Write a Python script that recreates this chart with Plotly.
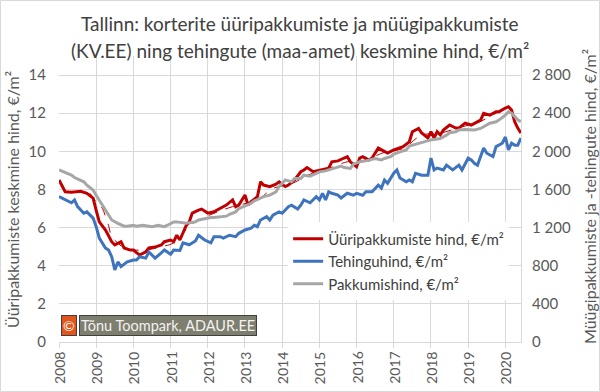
import plotly.graph_objects as go

# ---- data ----
rent_dates = ["2008-01","2008-03","2008-05","2008-08","2008-10","2008-12","2009-01","2009-02","2009-04","2009-06",
              "2009-07","2009-09","2009-10","2009-12","2010-01","2010-03","2010-05","2010-06","2010-08","2010-10",
              "2010-11","2011-01","2011-02","2011-03","2011-04","2011-06","2011-07","2011-08","2011-10","2011-11",
              "2012-01","2012-03","2012-04","2012-06","2012-07","2012-09","2012-10","2012-11","2013-01","2013-02",
              "2013-03","2013-05","2013-06","2013-07","2013-09","2013-11","2013-12","2014-02","2014-03","2014-05",
              "2014-07","2014-08","2014-09","2014-11","2015-01","2015-02","2015-04","2015-05","2015-07","2015-09",
              "2015-10","2015-11","2016-01","2016-02","2016-03","2016-05","2016-06","2016-08","2016-09","2016-11",
              "2017-01","2017-02","2017-04","2017-06","2017-07","2017-09","2017-10","2017-12","2018-01","2018-02",
              "2018-03","2018-04","2018-05","2018-07","2018-09","2018-10","2018-12","2019-02","2019-03","2019-05",
              "2019-06","2019-08","2019-10","2019-11","2020-01","2020-02","2020-03","2020-04","2020-05","2020-06"]
rent_values = [8.50,7.88,7.85,7.90,7.80,7.55,6.90,6.30,5.87,5.26,
               5.09,5.26,4.93,4.82,4.82,4.56,4.73,4.93,4.98,5.09,
               5.26,5.35,5.26,5.60,5.35,6.10,6.30,6.76,6.92,6.97,
               6.76,6.83,6.92,7.10,7.18,7.45,7.10,7.18,7.71,7.18,
               7.36,7.62,8.40,8.23,8.15,8.28,8.40,8.15,8.23,8.50,
               8.93,9.02,9.15,8.93,9.02,9.07,9.12,9.45,9.50,9.65,
               9.72,9.45,9.19,9.65,9.72,9.54,9.65,10.17,10.07,9.91,
               10.07,10.12,10.24,10.50,11.03,11.20,10.96,10.70,11.03,10.70,
               11.03,10.86,11.12,11.38,11.22,11.22,11.48,11.38,11.48,11.64,
               12.00,11.90,12.08,12.08,12.27,12.34,12.17,11.55,11.22,10.96]

trend_dates = ["2008-11","2009-01","2009-03","2009-04","2009-05","2009-06","2009-08","2009-10","2010-02","2010-06",
               "2010-10","2011-02","2011-08","2012-03","2012-09","2013-05","2013-10","2014-04","2014-10","2015-04",
               "2015-10","2016-04","2016-10","2017-04","2017-10","2018-04","2018-10","2019-04","2019-10","2020-01"]
trend_values = [7.80,7.36,7.00,6.57,6.10,5.52,5.19,4.93,4.82,4.85,
                5.00,5.20,6.20,6.75,7.10,7.45,8.05,8.30,8.80,9.10,
                9.45,9.55,9.95,10.15,10.85,10.95,11.25,11.50,12.00,12.20]

deal_dates = ["2008-01","2008-03","2008-05","2008-06","2008-07","2008-09","2008-10","2008-12","2009-01","2009-02",
              "2009-03","2009-04","2009-05","2009-06","2009-07","2009-08","2009-09","2009-11","2010-01","2010-02",
              "2010-03","2010-05","2010-06","2010-08","2010-10","2010-11","2011-01","2011-02","2011-04","2011-05",
              "2011-07","2011-08","2011-09","2011-10","2011-11","2011-12","2012-02","2012-03","2012-05","2012-06",
              "2012-08","2012-10","2012-11","2013-01","2013-03","2013-04","2013-05","2013-06","2013-08","2013-09",
              "2013-10","2013-12","2014-01","2014-03","2014-04","2014-06","2014-07","2014-08","2014-10","2014-12",
              "2015-01","2015-02","2015-03","2015-04","2015-05","2015-07","2015-08","2015-10","2015-12","2016-01",
              "2016-03","2016-04","2016-06","2016-08","2016-09","2016-10","2016-11","2017-01","2017-02","2017-03",
              "2017-05","2017-06","2017-07","2017-08","2017-10","2017-12","2018-01","2018-02","2018-03","2018-05",
              "2018-06","2018-08","2018-10","2018-11","2019-01","2019-02","2019-03","2019-04","2019-05","2019-06",
              "2019-07","2019-09","2019-10","2019-11","2019-12","2020-01","2020-02","2020-03","2020-04","2020-05",
              "2020-06"]
deal_values = [1525,1490,1460,1490,1420,1350,1365,1300,1210,1090,
               1040,985,965,895,755,840,790,840,860,860,
               895,880,945,880,935,965,920,965,960,1040,
               1020,1040,1060,1120,1090,1070,1040,1105,1105,1090,
               1120,1105,1140,1175,1195,1225,1210,1280,1315,1280,
               1330,1365,1350,1420,1435,1395,1435,1490,1460,1525,
               1490,1560,1490,1575,1560,1540,1510,1560,1540,1560,
               1540,1575,1575,1645,1615,1700,1665,1770,1805,1720,
               1680,1700,1680,1770,1750,1750,1930,1805,1825,1805,
               1855,1805,1855,1805,1930,1910,1875,1855,1945,2035,
               1980,1945,2050,2065,2085,2150,2015,2085,2065,2065,
               2140]

offer_dates = ["2008-01","2008-03","2008-05","2008-06","2008-08","2008-09","2008-10","2008-12","2009-01","2009-02",
               "2009-03","2009-04","2009-05","2009-06","2009-08","2009-10","2009-11","2010-01","2010-02","2010-04",
               "2010-06","2010-07","2010-09","2010-11","2010-12","2011-02","2011-03","2011-05","2011-06","2011-07",
               "2011-09","2011-10","2011-12","2012-02","2012-03","2012-05","2012-07","2012-08","2012-10","2012-11",
               "2013-01","2013-03","2013-04","2013-06","2013-07","2013-09","2013-11","2013-12","2014-02","2014-04",
               "2014-05","2014-07","2014-08","2014-10","2014-12","2015-01","2015-03","2015-04","2015-06","2015-08",
               "2015-09","2015-11","2015-12","2016-02","2016-04","2016-05","2016-07","2016-09","2016-10","2016-12",
               "2017-01","2017-03","2017-05","2017-06","2017-08","2017-09","2017-11","2018-01","2018-02","2018-04",
               "2018-06","2018-07","2018-09","2018-10","2018-12","2019-02","2019-03","2019-05","2019-06","2019-08",
               "2019-10","2019-11","2020-01","2020-02","2020-03","2020-04","2020-05","2020-06"]
offer_values = [1805,1775,1750,1725,1700,1680,1645,1595,1540,1490,
                1435,1385,1330,1280,1245,1215,1215,1225,1215,1225,
                1215,1210,1225,1210,1225,1260,1260,1250,1245,1250,
                1260,1280,1295,1305,1305,1315,1320,1340,1365,1400,
                1425,1455,1480,1505,1525,1540,1575,1630,1700,1680,
                1715,1715,1750,1740,1770,1785,1795,1805,1830,1845,
                1830,1820,1865,1890,1900,1910,1925,1910,1925,1945,
                1970,1995,2015,2055,2075,2085,2100,2120,2125,2135,
                2170,2195,2205,2225,2230,2230,2225,2240,2260,2295,
                2310,2330,2380,2415,2400,2360,2330,2310]

year_ticks = list(range(2008, 2021))
series_names = ["Üüripakkumiste hind, €/m²", "Tehinguhind, €/m²", "Pakkumishind, €/m²"]
title_lines = ["Tallinn: korterite üüripakkumiste ja müügipakkumiste",
               "(KV.EE) ning tehingute (maa-amet) keskmine hind, €/m²"]
left_title = "Üüripakkumiste keskmine hind, €/m²"
right_title = "Müügipakkumiste ja -tehingute hind, €/m²"
credit = "Tõnu Toompark, ADAUR.EE"


def to_year(months):
    """'YYYY-MM' -> decimal year (month start)."""
    out = []
    for s in months:
        y, m = s.split("-")
        out.append(int(y) + (int(m) - 1) / 12.0)
    return out


FONT = "Lato"
TXT = "#595959"
GRID = "#d9d9d9"
W, H = 600, 392
ML, MR, MT, MB = 59, 79, 56, 50

fig = go.Figure()
fig.add_trace(go.Scatter(x=to_year(rent_dates), y=rent_values, name=series_names[0], mode="lines",
                         line=dict(color="#c00000", width=3), yaxis="y"))
fig.add_trace(go.Scatter(x=to_year(trend_dates), y=trend_values, mode="lines", showlegend=False,
                         line=dict(color="#c00000", width=1, dash="dash", shape="spline"), yaxis="y"))
fig.add_trace(go.Scatter(x=to_year(deal_dates), y=deal_values, name=series_names[1], mode="lines",
                         line=dict(color="#3e74bd", width=3), yaxis="y2"))
fig.add_trace(go.Scatter(x=to_year(offer_dates), y=offer_values, name=series_names[2], mode="lines",
                         line=dict(color="#a6a6a6", width=3), yaxis="y2"))

fig.update_layout(
    template="none",
    width=W, height=H,
    margin=dict(l=ML, r=MR, t=MT, b=MB, autoexpand=False),
    paper_bgcolor="white", plot_bgcolor="white",
    font=dict(family=FONT, size=15, color=TXT),
    separators=", ",
    xaxis=dict(type="linear", range=[2008, 2020.42], tickmode="array", tickvals=year_ticks,
               showticklabels=False, automargin=False,
               showgrid=True, gridcolor=GRID, gridwidth=1,
               showline=True, linecolor=GRID, linewidth=1, ticks="outside", ticklen=5, tickcolor=GRID,
               zeroline=False),
    yaxis=dict(range=[0, 15], tickmode="linear", tick0=0, dtick=2, showgrid=True, gridcolor=GRID,
               gridwidth=1, zeroline=False, automargin=False, ticks="",
               showline=False, tickfont=dict(size=15, color=TXT), ticklabelstandoff=12),
    yaxis2=dict(range=[0, 3000], tickmode="linear", tick0=0, dtick=400, overlaying="y", side="right",
                showgrid=False, automargin=False, ticks="",
                zeroline=False, showline=True, linecolor=GRID, linewidth=1, tickformat=",d",
                tickfont=dict(size=15, color=TXT), ticklabelstandoff=7),
    legend=dict(x=0.496, y=0.418, xanchor="left", yanchor="top", bgcolor="white", borderwidth=0,
                font=dict(size=15, color="#404040"), tracegroupgap=0),
    showlegend=True,
)

# thin chart-area frame
pw, ph = W - ML - MR, H - MT - MB
fig.add_shape(type="rect", xref="paper", yref="paper", layer="below",
              x0=(-ML + 0.5) / pw, x1=(W - ML - 0.5) / pw, y0=(-MB + 0.5) / ph, y1=(H - MB - 0.5) / ph,
              line=dict(color=GRID, width=1), fillcolor="rgba(0,0,0,0)")

# year tick labels, vertical like the original
for yr in year_ticks:
    fig.add_annotation(xref="x", yref="paper", x=yr, y=-0.028, xanchor="center", yanchor="top",
                       text=str(yr), textangle=-90, showarrow=False,
                       font=dict(family=FONT, size=14, color=TXT))

# title lines
fig.add_annotation(xref="paper", yref="paper", x=0.521, y=1.115, xanchor="center", yanchor="middle",
                   text=title_lines[0], showarrow=False, font=dict(family=FONT, size=19, color="#404040"))
fig.add_annotation(xref="paper", yref="paper", x=0.521, y=1.018, xanchor="center", yanchor="middle",
                   text=title_lines[1], showarrow=False, font=dict(family=FONT, size=19, color="#404040"))
# axis titles
fig.add_annotation(xref="paper", yref="paper", x=-0.102, y=0.5, xanchor="center", yanchor="middle",
                   text=left_title, textangle=-90, showarrow=False, font=dict(family=FONT, size=16, color=TXT))
fig.add_annotation(xref="paper", yref="paper", x=1.147, y=0.51, xanchor="center", yanchor="middle",
                   text=right_title, textangle=-90, showarrow=False, font=dict(family=FONT, size=16, color=TXT))

# credit box
fig.add_annotation(xref="paper", yref="paper", x=0.004, y=0.056, xanchor="left", yanchor="middle",
                   text="©", showarrow=False, bgcolor="#e0561b", bordercolor="#404040", borderwidth=1,
                   borderpad=1, font=dict(family=FONT, size=14, color="white"))
fig.add_annotation(xref="paper", yref="paper", x=0.044, y=0.056, xanchor="left", yanchor="middle",
                   text=credit, showarrow=False, bgcolor="#7f7f6f", bordercolor="#404040", borderwidth=1,
                   borderpad=1, font=dict(family=FONT, size=14.5, color="#f2f2f2"))

fig.write_html("out.html", config={"displayModeBar": False},
               post_script="document.body.style.margin='0';document.body.style.padding='0';")
